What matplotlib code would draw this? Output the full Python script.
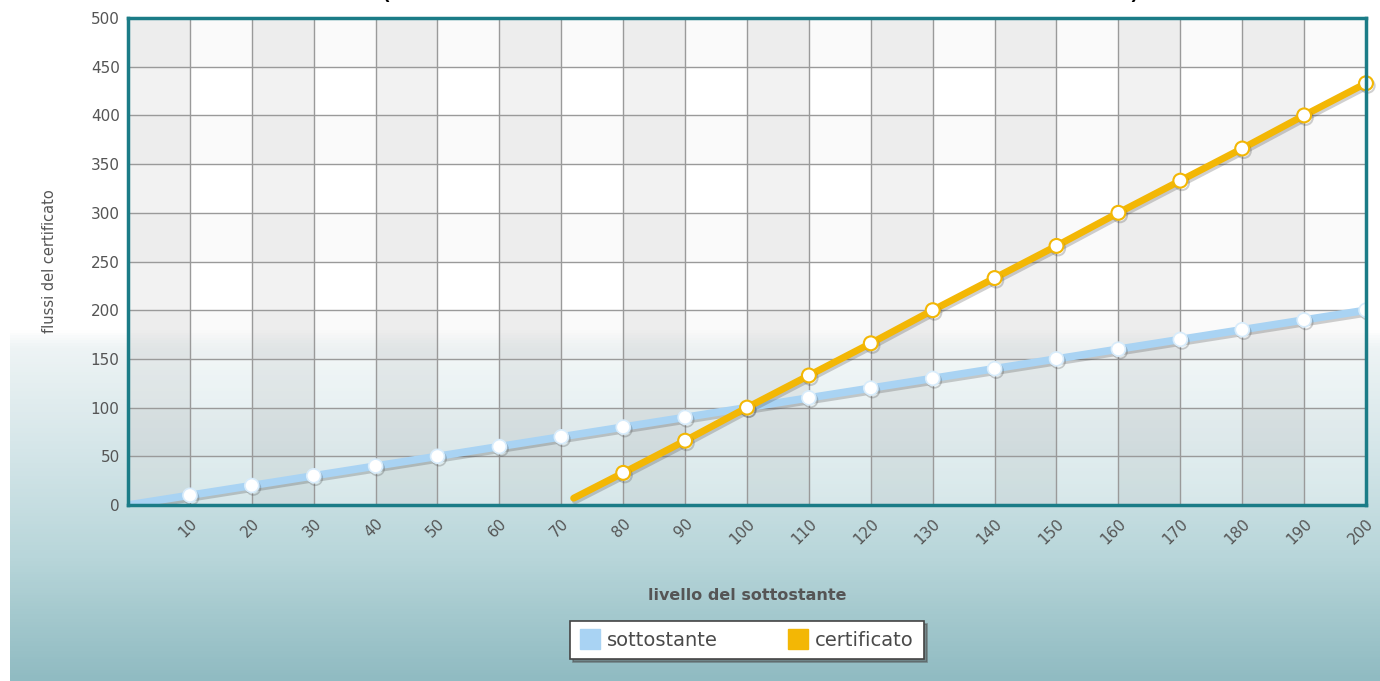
import numpy as np
import matplotlib
matplotlib.use("Agg")
import matplotlib.pyplot as plt
import matplotlib.patheffects as pe
from matplotlib.colors import LinearSegmentedColormap
from matplotlib.lines import Line2D

# Chart data.
levels = [0, 10, 20, 30, 40, 50, 60, 70, 80, 90, 100,
          110, 120, 130, 140, 150, 160, 170, 180, 190, 200]
sottostante = [0, 10, 20, 30, 40, 50, 60, 70, 80, 90, 100,
               110, 120, 130, 140, 150, 160, 170, 180, 190, 200]
cert_levels = [72, 80, 90, 100, 110, 120, 130, 140, 150, 160, 170, 180, 190, 200]
certificato = [7, 33, 66, 100, 133, 166, 200, 233, 266, 300, 333, 366, 400, 433]
xticks = list(range(10, 201, 10))
yticks = list(range(0, 501, 50))

BLUE = "#a9d3f3"
ORANGE = "#f3b705"
TEAL = "#1b7c87"
TEXT = "#555555"

fig = plt.figure(figsize=(13.8, 6.81), dpi=100)
fig.patch.set_facecolor("white")

# Background gradient (white at top, teal-grey at bottom).
bg = fig.add_axes([10 / 1380, 0, 1 - 10 / 1380, 1], zorder=0)
bg.set_axis_off()
cmap = LinearSegmentedColormap.from_list("bg", [
    (0.0, "#ffffff"), (0.485, "#ffffff"), (0.51, "#eef4f5"),
    (0.66, "#d5e6e9"), (0.82, "#b8d6da"), (0.91, "#a3c8cd"), (1.0, "#90bbc2")])
grad = np.linspace(0, 1, 681).reshape(-1, 1)
bg.imshow(grad, aspect="auto", cmap=cmap, extent=(0, 1, 0, 1))
bg.set_xlim(0, 1)
bg.set_ylim(0, 1)

ax = fig.add_axes([128 / 1380, 176 / 681, 1238 / 1380, 487 / 681], zorder=1)
ax.patch.set_facecolor("white")
ax.patch.set_alpha(0.3)
ax.set_xlim(0, 200)
ax.set_ylim(0, 500)

# Alternating column shading and faint row bands.
for x0 in range(0, 200, 20):
    ax.axvspan(x0, x0 + 10, color="black", alpha=0.05, lw=0, zorder=0)
for y0 in range(450, 0, -100):
    ax.axhspan(y0, y0 + 50, color="black", alpha=0.018, lw=0, zorder=0)

ax.set_xticks(range(0, 201, 10))
ax.set_yticks(yticks)
ax.grid(True, color="#9a9a9a", lw=1, zorder=1)
ax.set_axisbelow(True)

shadow = [pe.SimpleLineShadow(offset=(1.2, -1.8), shadow_color="#444444", alpha=0.25), pe.Normal()]
ax.plot(levels, sottostante, color=BLUE, lw=5.5, zorder=3,
        marker="o", markevery=slice(1, None), ms=10, mfc="white", mec="#d8ecfb", mew=1.2,
        path_effects=shadow, solid_capstyle="round")
ax.plot(cert_levels, certificato, color=ORANGE, lw=5, zorder=4,
        marker="o", markevery=slice(1, None), ms=10, mfc="white", mec=ORANGE, mew=1.5,
        path_effects=shadow, solid_capstyle="round", clip_on=False)

for s in ax.spines.values():
    s.set_color(TEAL)
    s.set_linewidth(2.5)
    s.set_zorder(5)

ax.tick_params(length=0, colors=TEXT, labelsize=11, pad=6)
ax.set_xticklabels([""] + [str(v) for v in xticks], rotation=45, ha="right",
                   rotation_mode="anchor")
ax.set_yticklabels([str(v) for v in yticks])
ax.tick_params(axis="x", pad=8)

ax.set_xlabel("livello del sottostante", fontsize=11.5, fontweight="bold",
              color=TEXT, labelpad=29)
ax.set_ylabel("flussi del certificato", fontsize=10.5, color=TEXT, labelpad=24)

handles = [Line2D([], [], ls="none", marker="s", ms=14, mfc=BLUE, mec=BLUE),
           Line2D([], [], ls="none", marker="s", ms=14, mfc=ORANGE, mec=ORANGE)]
leg = fig.legend(handles, ["sottostante", "certificato"], ncol=2,
                 loc="center", bbox_to_anchor=(747 / 1380, 1 - 640 / 681),
                 frameon=True, fancybox=False, shadow=True, fontsize=14,
                 columnspacing=3.6, handletextpad=0.4, borderpad=0.5,
                 handlelength=1.0, borderaxespad=0.3)
leg.get_frame().set_edgecolor("#444444")
leg.get_frame().set_linewidth(1.2)
for t in leg.get_texts():
    t.set_color("#4a4a4a")

# Cut-off title at the top edge: only the parentheses' tails show.
fig.text(385 / 1380, 1.0 + 2 / 681, "(", fontsize=24, ha="center", va="baseline", color="black")
fig.text(1135 / 1380, 1.0 + 2 / 681, ")", fontsize=24, ha="center", va="baseline", color="black")

fig.savefig("out.png", dpi=100)
